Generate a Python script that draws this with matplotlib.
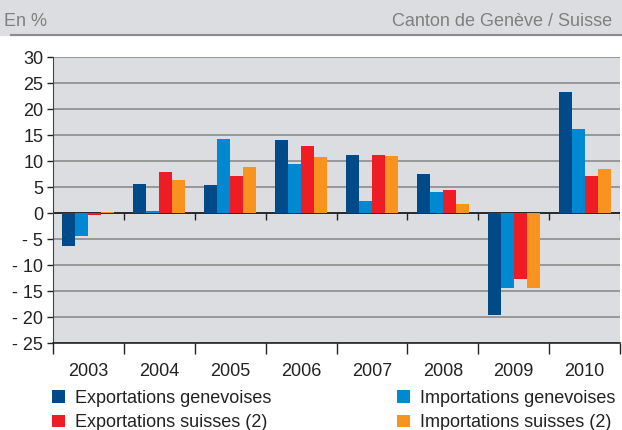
import numpy as np
import matplotlib
matplotlib.use("Agg")
import matplotlib.pyplot as plt
from matplotlib.patches import Rectangle
from matplotlib.lines import Line2D
from matplotlib.ticker import FuncFormatter

plt.rcParams['font.family'] = ['Liberation Sans', 'DejaVu Sans']

years = ['2003', '2004', '2005', '2006', '2007', '2008', '2009', '2010']
export_ge = [-6.3, 5.6, 5.45, 14.1, 11.2, 7.6, -19.5, 23.3]
import_ge = [-4.3, 0.45, 14.3, 9.5, 2.4, 4.1, -14.4, 16.2]
export_ch = [-0.3, 7.9, 7.2, 12.9, 11.2, 4.5, -12.6, 7.2]
import_ch = [0.3, 6.4, 8.9, 10.8, 11.0, 1.8, -14.4, 8.5]

series = [
    ('Exportations genevoises', export_ge, '#004a8a'),
    ('Importations genevoises', import_ge, '#0088d0'),
    ('Exportations suisses (2)', export_ch, '#ee1c25'),
    ('Importations suisses (2)', import_ch, '#f7931e'),
]

W, H = 622, 430
fig = plt.figure(figsize=(W / 100, H / 100), dpi=100)

# header band
fig.patches.append(Rectangle((0, (H - 35) / H), 1, 35 / H, transform=fig.transFigure,
                             color='#dcdde0', zorder=0))
fig.add_artist(Line2D([11 / W, 1], [(H - 35) / H] * 2, color='#8c8c8c', lw=1.5))
fig.text(4 / W, (H - 21) / H, 'En %', fontsize=13, color='#7f7f7f', va='center')
fig.text(612 / W, (H - 21) / H, 'Canton de Genève / Suisse', fontsize=13,
         color='#7f7f7f', va='center', ha='right')

ax = fig.add_axes([53 / W, (H - 343.3) / H, 567 / W, 286 / H])
ax.set_facecolor('#dcdde0')

x = np.arange(len(years))
bw = 0.183
for i, (name, vals, col) in enumerate(series):
    ax.bar(x + (i - 1.5) * bw, vals, bw, color=col, label=name, zorder=3)

ax.set_xlim(-0.5, len(years) - 0.5)
ax.set_ylim(-25, 30)
ax.set_yticks(np.arange(-25, 31, 5))
ax.yaxis.set_major_formatter(FuncFormatter(lambda v, p: f'- {abs(int(v))}' if v < 0 else f'{int(v)}'))
ax.grid(axis='y', color='#8c8c8c', lw=1.2, zorder=1)
ax.axhline(0, color='#222222', lw=1.3, zorder=2)

bounds = np.arange(len(years) + 1) - 0.5
ax.vlines(bounds[1:], -1.35, 0, color='#222222', lw=1, zorder=4)

ax.set_xticks(x)
ax.set_xticklabels(years)
ax.set_xticks(bounds, minor=True)
ax.tick_params(axis='x', which='major', length=0, pad=14, labelsize=13, labelcolor='#222222')
ax.tick_params(axis='x', which='minor', length=8, width=1, color='#222222')
ax.tick_params(axis='y', length=4, width=1, color='#222222', labelsize=13,
               labelcolor='#222222', pad=3)

for s in ['top', 'right']:
    ax.spines[s].set_visible(False)
ax.spines['left'].set_color('#444444')
ax.spines['bottom'].set_color('#222222')
ax.spines['bottom'].set_linewidth(1.2)

handles, labels = ax.get_legend_handles_labels()
order = [0, 2, 1, 3]
fig.legend([handles[i] for i in order], [labels[i] for i in order], ncol=2,
           loc='upper left', bbox_to_anchor=(52 / W, (H - 390) / H), frameon=False,
           fontsize=13, handlelength=0.7, handleheight=0.7, handletextpad=0.55,
           columnspacing=7.0, labelspacing=0.4, borderaxespad=0, borderpad=0,
           labelcolor='#222222')

fig.savefig('out.png', dpi=100)
